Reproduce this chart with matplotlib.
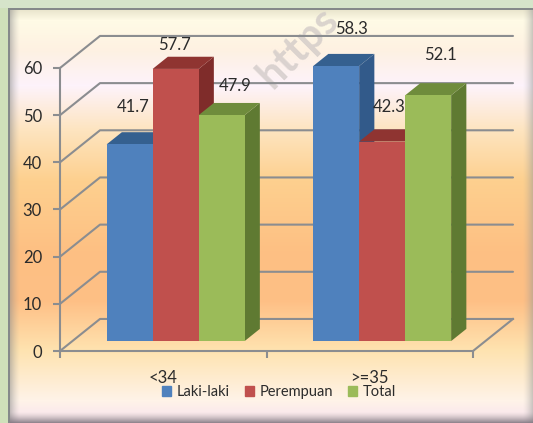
#!/usr/bin/env python3
"""Fake-3D clustered bars (Laki-laki / Perempuan / Total) by age group."""
import matplotlib

matplotlib.use("Agg")
import matplotlib.pyplot as plt
import numpy as np
from matplotlib.colors import to_rgb
from matplotlib.patches import Patch

W, H = 533, 423

categories = ["<34", ">=35"]
laki = [41.7, 58.3]
perempuan = [57.7, 42.3]
total = [47.9, 52.1]
y_ticks = [0, 10, 20, 30, 40, 50, 60]

series_names = ["Laki-laki", "Perempuan", "Total"]
FRONT = ["#4f81bd", "#c0504d", "#9bbb59"]
TOP = ["#35608f", "#8f3431", "#6f8c3c"]
SIDE = ["#325a8a", "#7f2c2a", "#5f7a32"]

# hand-placed value labels, pixel offset from the top centre of each bar
LABEL_OFFSETS = [[(3, 37), (-1, 24), (13, 29)], [(15, 37), (7, 35), (12, 40)]]

GRID = "#8b8d90"
INK = "#2b2b2b"

# oblique projection: full depth moves 40 px right and 32 px up
DEPTH_X = 40 / 206.5
DEPTH_Y = 32 / 4.71
BAR_W = 46 / 206.5
D0, D1 = 0.31, 0.69


def proj(x, y, d):
    return x + DEPTH_X * d, y + DEPTH_Y * d


def background():
    ys = [0, 9, 20, 50, 85, 130, 180, 250, 300, 350, 400, 412, H]
    cols = ["#d6e4ca", "#e8e4cc", "#fffbe6", "#fef1e2", "#fdf3fb", "#fee4bf", "#fdd08f",
            "#fdc083", "#febf85", "#fee3b0", "#fff3e8", "#fbeaec", "#fbeaec"]
    rgb = np.array([to_rgb(c) for c in cols])
    col = np.stack([np.interp(np.arange(H), ys, rgb[:, i]) for i in range(3)], axis=1)
    img = np.repeat(col[:, None, :], W, axis=1)
    # bevel shading along the frame
    for i in range(10):
        a = 0.5 * (1 - i / 10) ** 1.5
        img[:, 10 + i] = img[:, 10 + i] * (1 - a) + a * 0.55
        img[:, W - 1 - i] = img[:, W - 1 - i] * (1 - a) + a * 0.6
    for i in range(11):
        a = 0.85 * (1 - i / 11) ** 1.5
        img[H - 1 - i, 10:] = img[H - 1 - i, 10:] * (1 - a) + a * np.array([0.5, 0.46, 0.5])
    img[8:10, 8:] = to_rgb("#85898a")
    img[8:, 8:10] = to_rgb("#85898a")
    img[:, :8] = to_rgb("#cfe0ba")
    img[:8] = to_rgb("#d6e4ca")
    return img


plt.rcParams["font.family"] = ["Lato", "DejaVu Sans"]
fig = plt.figure(figsize=(W / 100, H / 100), dpi=100)

bg = fig.add_axes([0, 0, 1, 1], zorder=0)
bg.imshow(background(), aspect="auto", extent=(0, W, H, 0))
bg.axis("off")
bg.text(298, 47, "https", rotation=45, ha="center", va="center", fontsize=30, fontweight="bold",
        color="#cfc8c6", alpha=0.75)

# axes box is the front plane of the chart: x 60-473 px, y 351-68 px
ax = fig.add_axes([60 / W, 1 - 351 / H, 413 / W, 283 / H], zorder=1)
ax.patch.set_alpha(0)
ax.set_xlim(-0.5, 1.5)
ax.set_ylim(0, 60)

for t in y_ticks:
    xs, ys = zip(proj(-0.5, t, 0), proj(-0.5, t, 1), proj(1.5, t, 1))
    ax.plot(xs, ys, color=GRID, lw=1.5, clip_on=False, zorder=1, solid_capstyle="round")
xs, ys = zip(proj(1.5, 0, 0), proj(1.5, 0, 1))
ax.plot(xs, ys, color=GRID, lw=1.5, clip_on=False, zorder=1)

values = np.array([laki, perempuan, total])
for s, vals in enumerate(values):
    z = 2 + s
    lefts = []
    for c, v in enumerate(vals):
        x0 = c + (s - 1.5) * BAR_W
        x0, _ = proj(x0, 0, D0)
        base = proj(0, 0, D0)[1]
        lefts.append(x0)
        dx = DEPTH_X * (D1 - D0)
        dy = DEPTH_Y * (D1 - D0)
        top = base + v
        ax.fill([x0 + BAR_W, x0 + BAR_W + dx, x0 + BAR_W + dx, x0 + BAR_W],
                [base, base + dy, top + dy, top], color=SIDE[s], lw=0, clip_on=False, zorder=z)
        ax.fill([x0, x0 + BAR_W, x0 + BAR_W + dx, x0 + dx],
                [top, top, top + dy, top + dy], color=TOP[s], lw=0, clip_on=False, zorder=z)
        ax.annotate(f"{v:.1f}", xy=(x0 + BAR_W / 2, top), xytext=LABEL_OFFSETS[c][s],
                    textcoords="offset pixels", ha="center", va="center", fontsize=12,
                    color=INK, zorder=8, annotation_clip=False)
    ax.bar(lefts, vals, width=BAR_W, bottom=proj(0, 0, D0)[1], align="edge", color=FRONT[s],
           lw=0, clip_on=False, zorder=z)

for side in ("top", "right"):
    ax.spines[side].set_visible(False)
for side in ("left", "bottom"):
    ax.spines[side].set_color(GRID)
    ax.spines[side].set_linewidth(1.5)
    ax.spines[side].set_zorder(7)

ax.set_yticks(y_ticks)
ax.tick_params(axis="y", length=5, width=1.5, color=GRID, labelsize=12, labelcolor=INK, pad=8)
ax.set_xticks([0, 1], categories)
ax.set_xticks([-0.5, 0.5, 1.5], minor=True)
ax.tick_params(axis="x", which="major", length=0, labelsize=12, labelcolor=INK, pad=14)
ax.tick_params(axis="x", which="minor", length=5, width=1.5, color=GRID)

handles = [Patch(color=c, label=n) for c, n in zip(FRONT, series_names)]
fig.legend(handles=handles, loc="center", bbox_to_anchor=(279 / W, 1 - 392 / H), ncol=3,
           frameon=False, fontsize=10.5, labelcolor=INK, handlelength=0.65, handleheight=0.65,
           handletextpad=0.4, columnspacing=1.0, borderpad=0, borderaxespad=0)

fig.savefig("out.png", dpi=100)
